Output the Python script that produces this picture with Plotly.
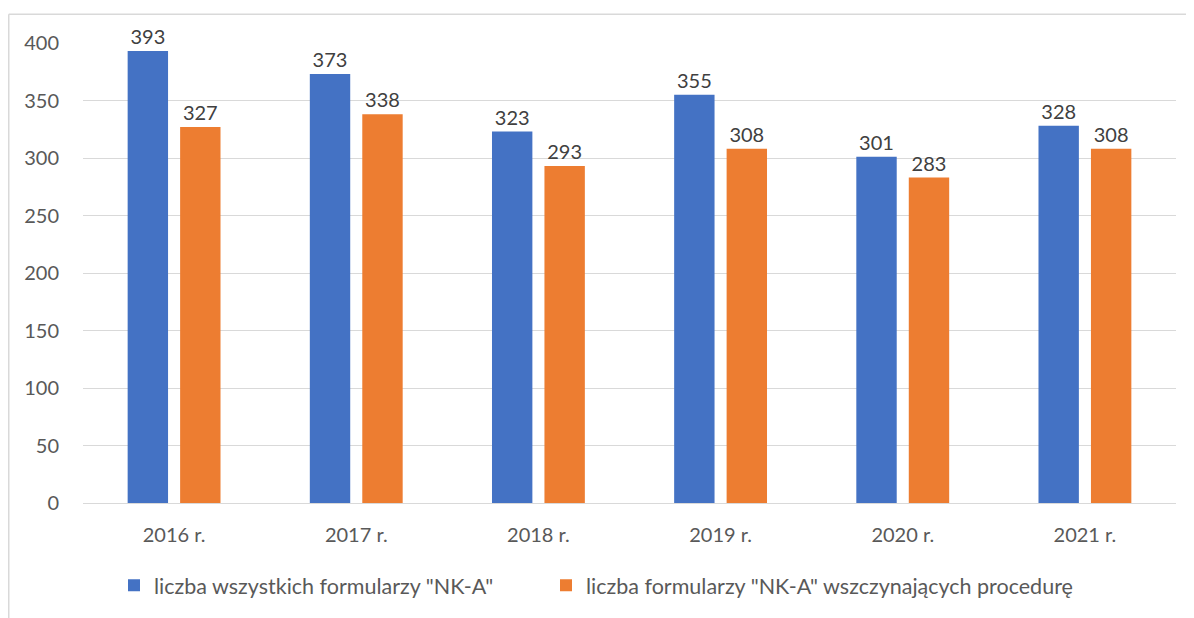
import plotly.graph_objects as go

categories = ["2016 r.", "2017 r.", "2018 r.", "2019 r.", "2020 r.", "2021 r."]
all_forms = [393, 373, 323, 355, 301, 328]
starting_forms = [327, 338, 293, 308, 283, 308]
series_names = ['liczba wszystkich formularzy "NK-A"',
                'liczba formularzy "NK-A" wszczynających procedurę']
y_ticks = [0, 50, 100, 150, 200, 250, 300, 350, 400]

FONT = "Lato, Carlito, Calibri, sans-serif"
OFF = 8  # page body margin
W, H = 1186, 610
L, R, T, B = 75, 18, 35, 111
pw, ph = W - L - R, H - T - B

def px_x(p):  # screen x -> paper
    return (p - OFF - L) / pw

def px_y(p):  # screen y -> paper
    return (H - B - (p - OFF)) / ph

fig = go.Figure()
for name, vals, col, leg in [(series_names[0], all_forms, "#4472C4", "legend"),
                             (series_names[1], starting_forms, "#ED7D31", "legend2")]:
    fig.add_trace(go.Bar(
        x=categories, y=vals, name=name, marker_color=col,
        marker_line_width=0, legend=leg, showlegend=True,
        text=[str(v) for v in vals], textposition="outside",
        textfont=dict(family=FONT, size=20, color="#404040"),
        cliponaxis=False,
    ))

leg_common = dict(orientation="h", y=px_y(590), yanchor="middle", xanchor="left",
                  font=dict(size=21.5, color="#595959"), itemwidth=30,
                  bgcolor="rgba(0,0,0,0)")

fig.update_layout(
    width=W, height=H,
    margin=dict(l=L, r=R, t=T, b=B),
    paper_bgcolor="white", plot_bgcolor="white",
    showlegend=True,
    barmode="group", bargap=0.424, bargroupgap=0.23,
    font=dict(family=FONT, size=20, color="#595959"),
    xaxis=dict(showgrid=False, showline=False, ticks="", tickfont=dict(size=20, color="#595959"),
               ticklabelstandoff=18),
    yaxis=dict(range=[0, 400], tickvals=y_ticks, showgrid=True, gridcolor="#d9d9d9",
               gridwidth=1.3, zeroline=True, zerolinecolor="#d9d9d9", zerolinewidth=1.3,
               showline=False, ticks="", tickfont=dict(size=20, color="#595959"),
               ticklabelstandoff=23),
    legend=dict(x=px_x(114), **leg_common),
    legend2=dict(x=px_x(546), **leg_common),
    shapes=[
        dict(type="line", xref="paper", yref="paper", x0=px_x(8.75), x1=px_x(W + 20),
             y0=px_y(14), y1=px_y(14), line=dict(color="#d9d9d9", width=1.5)),
        dict(type="line", xref="paper", yref="paper", x0=px_x(8.75), x1=px_x(8.75),
             y0=px_y(14), y1=px_y(H + 20), line=dict(color="#d9d9d9", width=1.5)),
    ],
)

fig.write_html("out.html")
